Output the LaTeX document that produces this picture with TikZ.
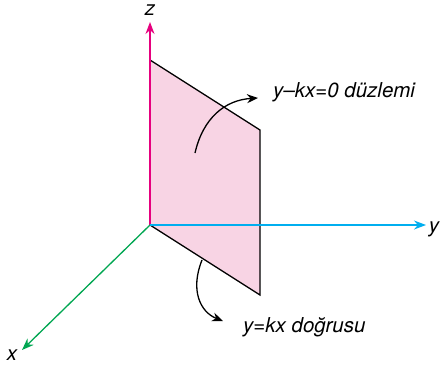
\documentclass[tikz,border=0pt]{standalone}
\usepackage{fontspec}
\setmainfont{TeX Gyre Heros}
\usetikzlibrary{arrows.meta}
\definecolor{zcol}{RGB}{230,0,126}
\definecolor{ycol}{RGB}{0,174,239}
\definecolor{xcol}{RGB}{0,166,81}
\definecolor{planefill}{RGB}{248,212,228}
\tikzset{
  axis/.style={line width=1.3pt,-{Stealth[length=12pt,width=9pt]}},
  lbl/.style={font=\fontsize{20.5}{24}\selectfont\itshape,inner sep=0pt},
  edge/.style={line width=1.3pt,black},
  pointer/.style={line width=1.3pt,black,-{Stealth[length=11pt,width=9pt]}}
}
\begin{document}
\begin{tikzpicture}[x=1pt,y=-1pt]
\useasboundingbox (0,0) rectangle (443,369);
\coordinate (O) at (150,225);
\coordinate (A) at (150,60);
\coordinate (B) at (260,130);
\coordinate (C) at (260,295);
\fill[planefill] (O) -- (A) -- (B) -- (C) -- cycle;
\draw[edge] (A) -- (B) -- (C) -- (O);
\coordinate (zend) at (150,22);
\coordinate (yend) at (426,225);
\coordinate (xend) at (22,350);
\draw[axis,zcol] (O) -- (zend);
\draw[axis,ycol] (O) -- (yend);
\draw[axis,xcol] (O) -- (xend);
\node[lbl,anchor=base] (zl) at (150,16) {z};
\node[lbl,anchor=base] (yl) at (434,232) {y};
\node[lbl,anchor=base] (xl) at (12,360) {x};
\node[lbl,anchor=base west] (pl) at (273,97) {y–kx=0 düzlemi};
\node[lbl,anchor=base west] (dl) at (243,332) {y=kx doğrusu};
\coordinate (p1) at (195,153);
\coordinate (p2) at (258,98);
\draw[pointer] (p1) .. controls (203,118) and (225,100) .. (p2);
\coordinate (q1) at (202,260);
\coordinate (q2) at (223,321);
\draw[pointer] (q1) .. controls (190,290) and (200,312) .. (q2);
\end{tikzpicture}
\end{document}
